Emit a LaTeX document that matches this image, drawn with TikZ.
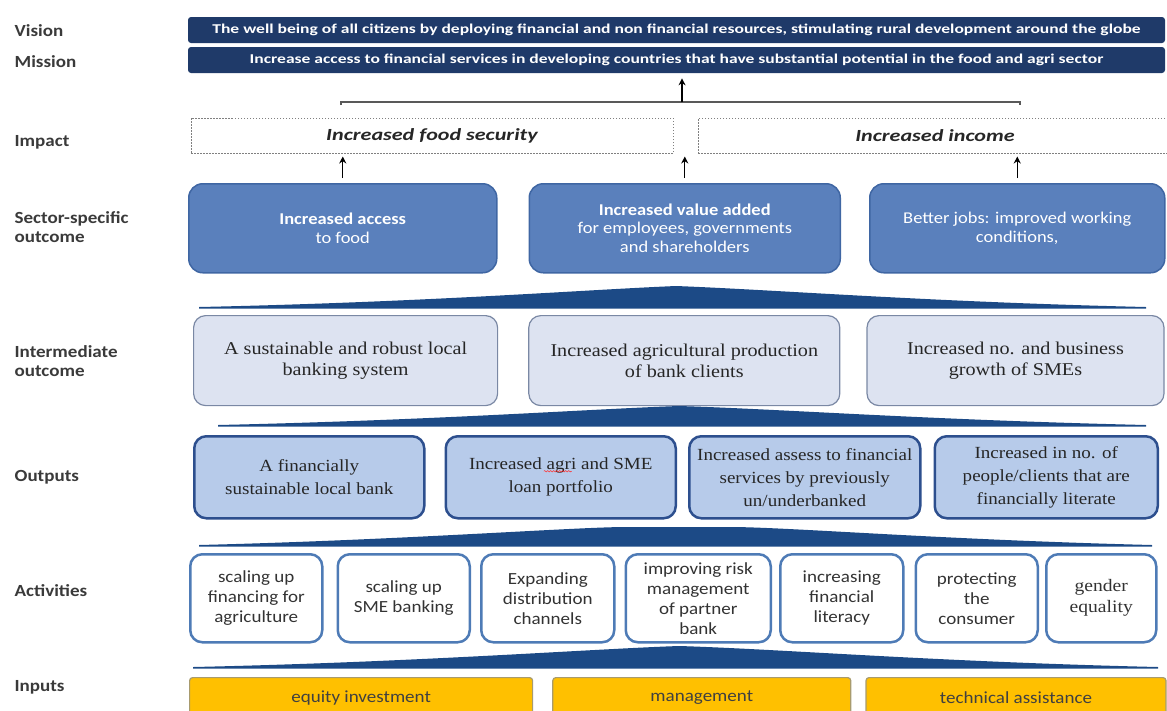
\documentclass[tikz,border=0pt]{standalone}
\usepackage{fontspec}
\setmainfont{Liberation Serif}[FakeStretch=1.12]
\setsansfont{Carlito}[FakeStretch=1.12]
\newfontfamily\widesans{Carlito}[FakeStretch=1.3]
\usetikzlibrary{arrows, arrows.meta, positioning, decorations.pathmorphing}

\definecolor{navy}{HTML}{1F3A69}
\definecolor{bandblue}{HTML}{1C4A86}
\definecolor{secfill}{HTML}{5A80BC}
\definecolor{secline}{HTML}{3F66A3}
\definecolor{midfill}{HTML}{DDE3F1}
\definecolor{midline}{HTML}{7A88A4}
\definecolor{outfill}{HTML}{B7CBEA}
\definecolor{outdraw}{HTML}{2D4F8E}
\definecolor{actline}{HTML}{4E7BB6}
\definecolor{infill}{HTML}{FFC000}
\definecolor{indraw}{HTML}{A89B6E}
\definecolor{lblgray}{HTML}{3A3A3A}

\begin{document}
\begin{tikzpicture}[
            x = 1pt, y = -1pt, % one unit per pixel, y pointing down
            > = {Stealth[length = 7pt, width = 7pt]}, % arrow head style
            semithick % line style
        ]

        \tikzstyle{rowlabel}=[
            anchor = west,
            align = left,
            text = lblgray,
            font = \sffamily\bfseries\fontsize{17}{19.5}\selectfont
        ]
        \tikzstyle{bar}=[
            fill = navy,
            rounded corners = 3pt,
            minimum width = 977pt,
            minimum height = 26pt,
            text = white,
            font = \widesans\bfseries\fontsize{13.5}{15}\selectfont
        ]
        \tikzstyle{impactbox}=[
            draw = gray,
            dash pattern = on 1.5pt off 1.5pt,
            line width = 1pt,
            minimum height = 35pt,
            text = black!85,
            font = \widesans\bfseries\itshape\fontsize{17}{19}\selectfont
        ]
        \tikzstyle{sector}=[
            draw = secline,
            fill = secfill,
            line width = 1.5pt,
            rounded corners = 14pt,
            minimum height = 89pt,
            align = center,
            text = white,
            font = \sffamily\fontsize{16.5}{18.5}\selectfont
        ]
        \tikzstyle{middle}=[
            draw = midline,
            fill = midfill,
            line width = 1.2pt,
            rounded corners = 12pt,
            minimum height = 90pt,
            align = center,
            text = black!85,
            font = \rmfamily\fontsize{18}{21}\selectfont
        ]
        \tikzstyle{output}=[
            draw = outdraw,
            fill = outfill,
            line width = 2.5pt,
            rounded corners = 12pt,
            minimum height = 82pt,
            align = center,
            text = black!85,
            font = \rmfamily\fontsize{17}{23}\selectfont
        ]
        \tikzstyle{activity}=[
            draw = actline,
            fill = white,
            line width = 2.5pt,
            rounded corners = 12pt,
            minimum height = 88pt,
            inner sep = 1pt,
            align = center,
            text = black!80,
            font = \sffamily\fontsize{17}{20}\selectfont
        ]
        \tikzstyle{input}=[
            draw = indraw,
            fill = infill,
            line width = 1.2pt,
            rounded corners = 3pt,
            minimum height = 40pt,
            text = black!75,
            font = \sffamily\fontsize{17}{19}\selectfont
        ]
        \tikzstyle{band}=[fill = bandblue]

        \useasboundingbox (0,0) rectangle (1167,710);
        \clip (0,0) rectangle (1167,710);

        % row labels
	\node[rowlabel] (lvision) at (11,31) {Vision};
	\node[rowlabel] (lmission) at (11,62) {Mission};
	\node[rowlabel] (limpact) at (11,142) {Impact};
	\node[rowlabel] (lsector) at (11,227) {Sector-specific\\outcome};
	\node[rowlabel] (linter) at (11,361) {Intermediate\\outcome};
	\node[rowlabel] (loutputs) at (11,477) {Outputs};
	\node[rowlabel] (lactiv) at (11,591) {Activities};
	\node[rowlabel] (linputs) at (11,687) {Inputs};

        % vision and mission
	\node[bar] (vision) at (676.5,30) {The well being of all citizens by deploying financial and non financial resources, stimulating rural development around the globe};
	\node[bar] (mission) at (676.5,60) {Increase access to financial services in developing countries that have substantial potential in the food and agri sector};

        % impact
	\node[impactbox, minimum width = 482pt] (food) at (432,135.5) {Increased food security};
	\node[impactbox, minimum width = 474pt] (income) at (935,135.5) {Increased income};

        % sector-specific outcome
	\node[sector, minimum width = 308pt, anchor = north west] (access) at (188,183) {\textbf{Increased access}\\to food};
	\node[sector, minimum width = 311pt] (value) [right = 31pt of access] {\textbf{Increased value added}\\for employees, governments\\and shareholders};
	\node[sector, minimum width = 295pt] (jobs) [right = 28pt of value] {Better jobs: improved working\\conditions,};

        % intermediate outcome
	\node[middle, minimum width = 304pt, anchor = north west] (banking) at (193,315) {A sustainable and robust local\\banking system};
	\node[middle, minimum width = 311pt] (production) [right = 30pt of banking] {Increased agricultural production\\of bank clients};
	\node[middle, minimum width = 297pt] (smes) [right = 26pt of production] {Increased no. and business\\growth of SMEs};

        % outputs
	\node[output, minimum width = 230pt, anchor = north west] (localbank) at (193,435) {A financially\\sustainable local bank};
	\node[output, minimum width = 230pt] (portfolio) [right = 19pt of localbank] {Increased agri and SME\\loan portfolio};
	\node[output, minimum width = 231pt] (unbanked) [right = 11pt of portfolio] {Increased assess to financial\\services by previously\\un/underbanked};
	\node[output, minimum width = 223pt] (literate) [right = 12pt of unbanked] {Increased in no. of\\people/clients that are\\financially literate};
        % spell-check squiggle under "agri"
        \draw[red!80, line width = 0.5pt, decorate, decoration = {snake, amplitude = 0.7pt, segment length = 3pt}]
            ([shift = {(-17,-6)}]portfolio.center) -- ([shift = {(11,-6)}]portfolio.center);

        % activities
	\node[activity, minimum width = 132pt, anchor = north west] (agri) at (189,553) {scaling up\\financing for\\agriculture};
	\node[activity, minimum width = 132pt] (sme) [right = 13pt of agri] {scaling up\\SME banking};
	\node[activity, minimum width = 133pt] (channels) [right = 9pt of sme] {Expanding\\distribution\\channels};
	\node[activity, minimum width = 145pt] (risk) [right = 9pt of channels] {improving risk\\management\\of partner\\bank};
	\node[activity, minimum width = 123pt] (literacy) [right = 7pt of risk] {increasing\\financial\\literacy};
	\node[activity, minimum width = 122pt] (consumer) [right = 10pt of literacy] {protecting\\the\\consumer};
	\node[activity, minimum width = 110pt, font = \rmfamily\fontsize{17.5}{21}\selectfont] (gender) [right = 6pt of consumer] {gender\\equality};

        % inputs
	\node[input, minimum width = 343pt, anchor = north west] (equity) at (189,677) {equity investment};
	\node[input, minimum width = 298pt] (management) [right = 19pt of equity] {management};
	\node[input, minimum width = 300pt] (assistance) [right = 14pt of management] {technical assistance};

        % tapered bands between the rows
        \fill[band] (199,307) .. controls (430,302) and (580,290) .. (676,286) .. controls (780,290) and (930,302) .. (1146,307) -- (1146,308.5) -- (199,308.5) -- cycle;
        \fill[band] (218,425) .. controls (440,420) and (590,409) .. (679,406) .. controls (780,409) and (930,420) .. (1146,425) -- (1146,426.5) -- (218,426.5) -- cycle;
        \fill[band] (199,545) .. controls (400,540) and (560,528) .. (622,527) -- (735,527) .. controls (800,528) and (950,540) .. (1152,545) -- (1152,546.5) -- (199,546.5) -- cycle;
        \fill[band] (193,667) .. controls (420,662) and (590,649) .. (679,646) .. controls (780,649) and (940,662) .. (1158,667) -- (1158,668.5) -- (193,668.5) -- cycle;

        % arrows up to the impact row
        \path[->, line width = 1.2pt, shorten < = 5pt, shorten > = 3pt] (access.north) edge (access.north |- food.south);
        \path[->, line width = 1.2pt, shorten < = 5pt, shorten > = 3pt] (value.north) edge (value.north |- food.south);
        \path[->, line width = 1.2pt, shorten < = 5pt, shorten > = 3pt] (jobs.north) edge (jobs.north |- income.south);

        % bracket up to the mission
	\coordinate (brl) at (341,102);
	\coordinate (brr) at (1020,102);
	\coordinate (brm) at (682,102);
        \draw[black!65, line width = 1.5pt] ([yshift = -3pt]brl) -- (brl) -- (brr) -- ([yshift = -3pt]brr);
        \path[->, line width = 1.5pt, shorten > = 5pt] (brm) edge (brm |- mission.south);

    \end{tikzpicture}
\end{document}
